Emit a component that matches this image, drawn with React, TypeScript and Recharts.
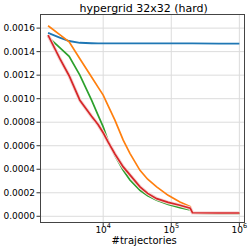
import React from 'react';
import { LineChart, Line, XAxis, YAxis, CartesianGrid } from 'recharts';

const xs = [1550, 2300, 3160, 4540, 6750, 8400, 10000, 11840, 14860, 19680, 24700, 34700, 45000, 61000, 90000, 134000, 190000, 205000, 500000, 1000000];
const blueVals = [0.00156, 0.00152, 0.00149, 0.001475, 0.001471, 0.00147, 0.00147, 0.00147, 0.00147, 0.00147, 0.00147, 0.00147, 0.00147, 0.00147, 0.00147, 0.00147, 0.00147, 0.00147, 0.001468, 0.001468];
const orangeVals = [0.00162, 0.001544, 0.001483, 0.00134, 0.001185, 0.001098, 0.00103, 0.000939, 0.000817, 0.000647, 0.000535, 0.000391, 0.000315, 0.00025, 0.000178, 0.000122, 0.000082, 0.00003, 0.000026, 0.000026];
const greenVals = [0.001526, 0.001434, 0.00136, 0.0012, 0.000987, 0.00086, 0.00076, 0.00064, 0.000517, 0.000391, 0.000308, 0.000221, 0.000175, 0.000136, 0.0001, 0.000074, 0.000054, 0.000026, 0.000023, 0.000022];
const redVals = [0.00154, 0.001342, 0.001195, 0.000987, 0.00085, 0.00078, 0.00071, 0.00063, 0.00053, 0.00042, 0.000352, 0.00025, 0.000195, 0.00015, 0.000118, 0.000094, 0.000068, 0.00003, 0.000028, 0.000028];

const yTicks = [0, 0.0002, 0.0004, 0.0006, 0.0008, 0.001, 0.0012, 0.0014, 0.0016];
const xTicks = [10000, 100000, 1000000];
const xMinorTicks = [2000, 3000, 4000, 5000, 6000, 7000, 8000, 9000, 20000, 30000, 40000, 50000, 60000, 70000, 80000, 90000, 200000, 300000, 400000, 500000, 600000, 700000, 800000, 900000];

const titleText = 'hypergrid 32x32 (hard)';
const xLabelText = '#trajectories';

const data = xs.map((x, i) => ({
  x,
  blue: blueVals[i],
  orange: orangeVals[i],
  green: greenVals[i],
  red: redVals[i],
}));

const FONT = '"DejaVu Sans", sans-serif';

const XTick = (props: any) => {
  const { x, y, payload } = props;
  const exp = Math.round(Math.log10(payload.value));
  return (
    <text x={x} y={y + 6.8} textAnchor="middle" fontFamily={FONT} fontSize={9} fill="#000">
      <tspan>10</tspan>
      <tspan dy={-5} fontSize={6.5}>{exp}</tspan>
    </text>
  );
};

export default function App() {
  return (
    <div style={{ position: 'absolute', left: 0, top: 0, width: 252, height: 251, background: '#fff' }}>
      <LineChart
        width={252}
        height={251}
        data={data}
        margin={{ top: 14, right: 7, bottom: 0, left: 0 }}
      >
        <CartesianGrid stroke="#dcdcdc" strokeWidth={1} horizontalValues={yTicks} verticalValues={xTicks} />
        <XAxis
          dataKey="x"
          type="number"
          scale="log"
          domain={[1180, 1210000]}
          allowDataOverflow
          ticks={xTicks}
          tick={<XTick />}
          tickSize={3.5}
          tickMargin={0}
          height={28}
          tickLine={{ stroke: '#333' }}
          axisLine={false}
          interval={0}
        />
        <XAxis
          xAxisId="minor"
          dataKey="x"
          type="number"
          scale="log"
          domain={[1180, 1210000]}
          allowDataOverflow
          ticks={xMinorTicks}
          tick={false}
          tickSize={2}
          height={0}
          axisLine={false}
          tickLine={{ stroke: '#333' }}
          interval={0}
        />
        <YAxis
          type="number"
          domain={[-0.000057, 0.00172]}
          allowDataOverflow
          ticks={yTicks}
          tickFormatter={(v: number) => v.toFixed(4)}
          width={40}
          tickSize={3.5}
          tickMargin={1.5}
          axisLine={false}
          tickLine={{ stroke: '#333' }}
          tick={{ fontFamily: FONT, fontSize: 9, fill: '#000' }}
          interval={0}
        />
        <Line dataKey="blue" stroke="#1f77b4" strokeWidth={1.9} dot={false} isAnimationActive={false} />
        <Line dataKey="orange" stroke="#ff7f0e" strokeWidth={1.7} dot={false} isAnimationActive={false} />
        <Line dataKey="green" stroke="#2ca02c" strokeWidth={1.7} dot={false} isAnimationActive={false} />
        <Line dataKey="red" stroke="#f6d6d6" strokeWidth={3.6} dot={false} isAnimationActive={false} legendType="none" />
        <Line dataKey="red" stroke="#d62728" strokeWidth={1.7} dot={false} isAnimationActive={false} />
      </LineChart>
      <div
        style={{
          position: 'absolute',
          left: 40,
          top: 14,
          width: 205,
          height: 209,
          boxSizing: 'border-box',
          border: '1px solid #444',
          pointerEvents: 'none',
        }}
      />
      <svg width={252} height={251} style={{ position: 'absolute', left: 0, top: 0, pointerEvents: 'none' }}>
        <text x={143.7} y={11.5} textAnchor="middle" fontFamily={FONT} fontSize={11} fill="#000">{titleText}</text>
        <text x={144.2} y={243.5} textAnchor="middle" fontFamily={FONT} fontSize={10} fill="#000">{xLabelText}</text>
      </svg>
    </div>
  );
}
